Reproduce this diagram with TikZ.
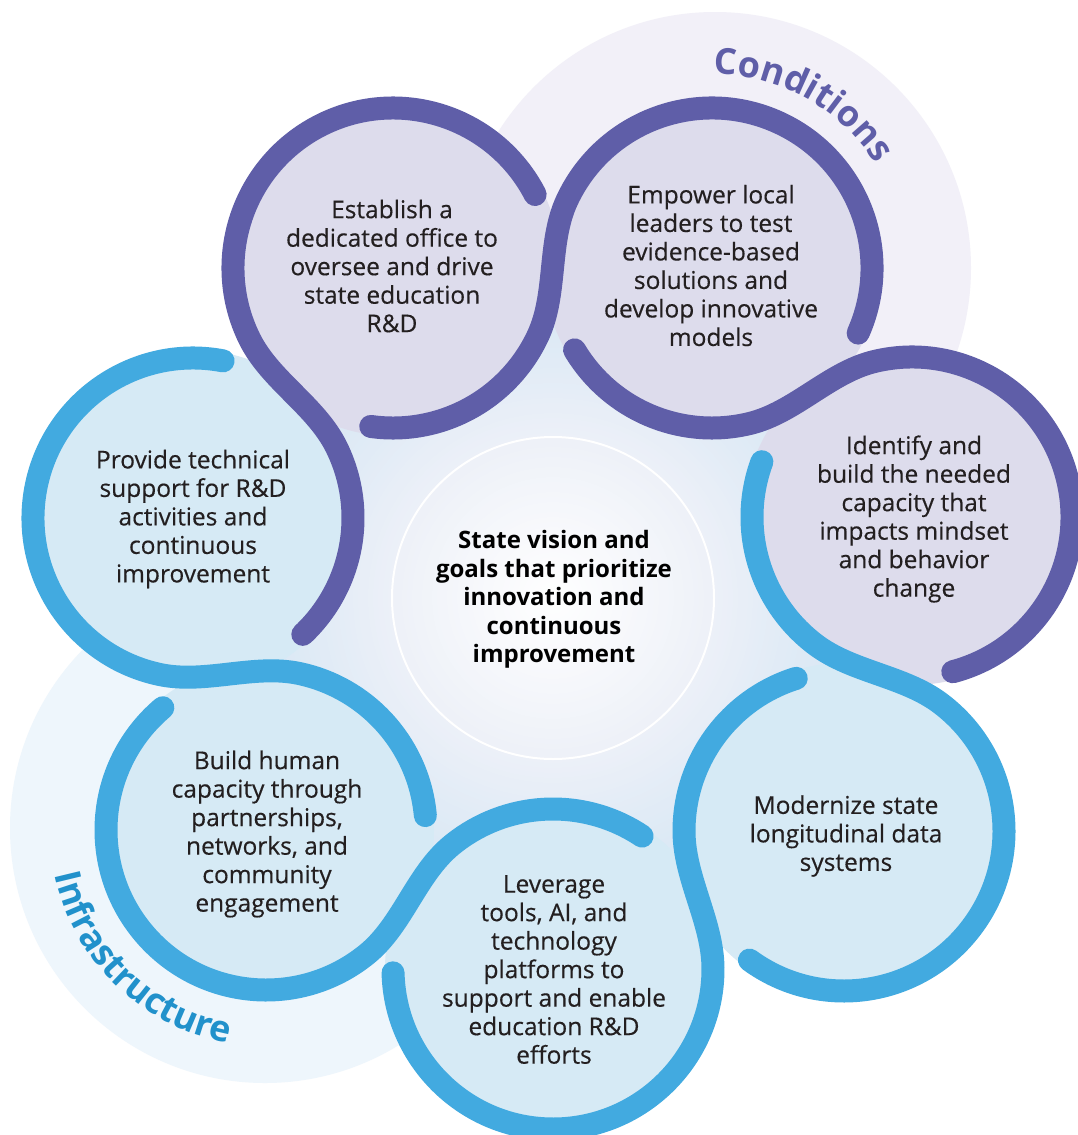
\documentclass[tikz,border=0pt]{standalone}
\usepackage{fontspec}
\setmainfont{Open Sans}
\newfontfamily\bodyfont{Open Sans}[FakeBold=0.35]
\usetikzlibrary{decorations.text}
\definecolor{ringP}{RGB}{95,94,168}
\definecolor{ringB}{RGB}{66,170,224}
\definecolor{fillP}{RGB}{221,220,236}
\definecolor{fillB}{RGB}{214,234,245}
\definecolor{bgP}{RGB}{242,240,248}
\definecolor{bgB}{RGB}{238,246,252}
\definecolor{infraC}{RGB}{33,145,203}
\definecolor{txtC}{RGB}{35,31,32}
\definecolor{glowIn}{RGB}{236,240,248}
\definecolor{glowOut}{RGB}{211,229,243}
\definecolor{hubEdge}{RGB}{238,241,248}
\newcommand\rr{160}
\newcommand\dl{25}
\newcommand\cc{46}
\newcommand\myribbon[3]{%
  \pgfmathanglebetweenpoints{\pgfpointanchor{#1}{center}}{\pgfpointanchor{#2}{center}}%
  \let\ph\pgfmathresult
  \pgfmathsetmacro\sa{\ph-98}%
  \pgfmathsetmacro\ea{\ph-\dl}%
  \pgfmathsetmacro\sb{\ph+180-\dl}%
  \pgfmathsetmacro\eb{\ph-24}%
  \pgfmathsetmacro\ta{\ph+90-\dl}%
  \pgfmathsetmacro\tb{\ph-90-\dl}%
  \draw[ringline,draw=#3] ([shift={(\sa:\rr)}]#1) arc[start angle=\sa,end angle=\ea,radius=\rr]
    .. controls +(\ta:\cc) and +(\tb:\cc) .. ([shift={(\sb:\rr)}]#2)
    arc[start angle=\sb,end angle=\eb,radius=\rr];
}
\begin{document}
\begin{tikzpicture}[x=1pt,y=1pt,
  ringline/.style={line width=23pt, line cap=round},
  bubtxt/.style={font=\bodyfont\fontsize{24.5}{28.5}\selectfont, text=txtC, align=center, inner sep=0pt},
  hubtxt/.style={font=\bfseries\fontsize{24}{28.5}\selectfont, text=black, align=center, inner sep=0pt}]
\useasboundingbox (0,0) rectangle (1078,-1135);
\fill[white] (0,0) rectangle (1078,-1135);
\coordinate (c1) at (393,-268);
\coordinate (c2) at (712,-268);
\coordinate (c3) at (912,-517);
\coordinate (c4) at (844,-831);
\coordinate (c5) at (553,-969);
\coordinate (c6) at (266,-830);
\coordinate (c7) at (193,-518);
\coordinate (hub) at (553,-598);
\coordinate (bgc) at (715,-268);
\coordinate (bgi) at (265,-828);
% background zones
\fill[bgP] (bgc) circle (256);
\fill[bgB] (bgi) circle (255);
% glow around hub
\foreach \i in {0,...,34} {
  \pgfmathsetmacro\rad{335-\i*5}
  \pgfmathtruncatemacro\pp{100*\i/34}
  \fill[glowIn!\pp!glowOut] (hub) circle (\rad);
}
% bubble fills
\foreach \c in {c4,c5,c6,c7} \fill[fillB] (\c) circle (168);
\foreach \c in {c3,c2,c1} \fill[fillP] (\c) circle (168);
% hub disk
\foreach \i in {0,...,32} {
  \pgfmathsetmacro\rad{161-\i*5}
  \pgfmathtruncatemacro\pp{100*\i/32}
  \fill[white!\pp!hubEdge] (hub) circle (\rad);
}
\draw[white, line width=2pt] (hub) circle (161);
% ribbons
\myribbon{c7}{c1}{ringP}
\myribbon{c1}{c2}{ringP}
\myribbon{c2}{c3}{ringP}
\myribbon{c3}{c4}{ringB}
\myribbon{c4}{c5}{ringB}
\myribbon{c5}{c6}{ringB}
\myribbon{c6}{c7}{ringB}
% texts
\node[bubtxt] (t1) at (392,-266) {Establish a\\dedicated office to\\oversee and drive\\state education\\R\&D};
\node[bubtxt] (t2) at (711,-265.5) {Empower local\\leaders to test\\evidence-based\\solutions and\\develop innovative\\models};
\node[bubtxt] (t3) at (914,-519) {Identify and\\build the needed\\capacity that\\impacts mindset\\and behavior\\change};
\node[bubtxt] (t4) at (846,-836) {Modernize state\\longitudinal data\\systems};
\node[bubtxt] (t5) at (554,-969.5) {Leverage\\tools, AI, and\\technology\\platforms to\\support and enable\\education R\&D\\efforts};
\node[bubtxt] (t6) at (267,-834) {Build human\\capacity through\\partnerships,\\networks, and\\community\\engagement};
\node[bubtxt] (t7) at (193,-519) {Provide technical\\support for R\&D\\activities and\\continuous\\improvement};
\node[hubtxt] (th) at (554,-599.5) {State vision and\\goals that prioritize\\innovation and\\continuous\\improvement};
% curved labels
\path[decorate, decoration={text along path, text align=center,
  text={|\fontsize{36}{40}\selectfont\bfseries\color{ringP}|Conditions}}]
  ([shift={(95:194)}]c2) arc[start angle=95, end angle=27, radius=194];
\path[decorate, decoration={text along path, text align=center,
  text={|\fontsize{36}{40}\selectfont\bfseries\color{infraC}|Infrastructure}}]
  ([shift={(176:216)}]c6) arc[start angle=176, end angle=276, radius=216];
\end{tikzpicture}
\end{document}
